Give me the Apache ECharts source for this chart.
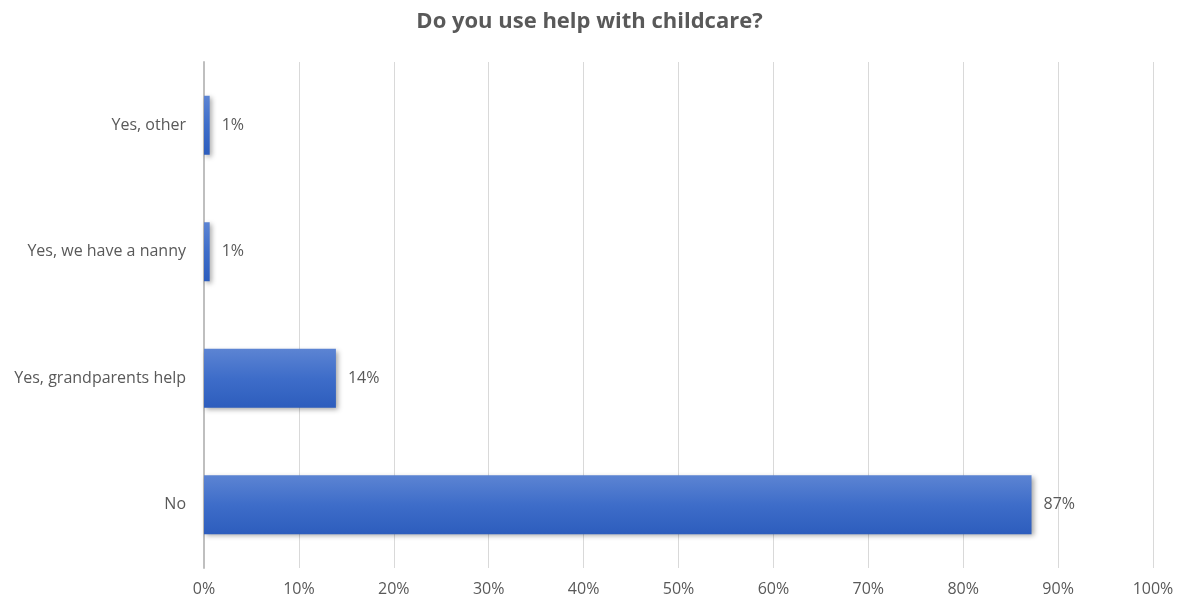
<!DOCTYPE html>
<html>
<head>
<meta charset="utf-8">
<script src="https://cdn.jsdelivr.net/npm/echarts@6/dist/echarts.min.js"></script>
<style>html,body{margin:0;padding:0;background:#fff;}#c{width:1179px;height:604px;}</style>
</head>
<body>
<div id="c"></div>
<script>
const categories = ['No', 'Yes, grandparents help', 'Yes, we have a nanny', 'Yes, other'];
const values = [87.2, 13.9, 0.6, 0.6];
const valueLabels = ['87%', '14%', '1%', '1%'];
const xTicks = [0, 10, 20, 30, 40, 50, 60, 70, 80, 90, 100];

const chart = echarts.init(document.getElementById('c'));
const font = '"Open Sans", "Liberation Sans", sans-serif';
chart.setOption({
  animation: false,
  title: {
    text: 'Do you use help with childcare?',
    left: 'center', top: 6,
    textStyle: { fontFamily: font, fontSize: 22, fontWeight: 'bold', color: '#595959' }
  },
  grid: { left: 204, right: 26, top: 62, bottom: 36, containLabel: false },
  xAxis: {
    type: 'value', min: xTicks[0], max: xTicks[xTicks.length - 1], interval: 10,
    axisLine: { show: false }, axisTick: { show: false },
    splitLine: { lineStyle: { color: '#d9d9d9', width: 1 } },
    axisLabel: { formatter: v => v + '%', color: '#595959', fontFamily: font, fontSize: 16, margin: 13 }
  },
  yAxis: {
    type: 'category', data: categories,
    axisLine: { show: true, lineStyle: { color: '#bfbfbf', width: 2 } },
    axisTick: { show: false },
    axisLabel: { color: '#595959', fontFamily: font, fontSize: 16, margin: 18 }
  },
  series: [{
    type: 'bar', data: values, barWidth: 59,
    itemStyle: {
      color: new echarts.graphic.LinearGradient(0, 0, 0, 1, [
        { offset: 0, color: '#5c84d3' },
        { offset: 0.5, color: '#3e6dc9' },
        { offset: 1, color: '#2d5dbd' }
      ]),
      shadowColor: 'rgba(0,0,0,0.35)', shadowBlur: 5, shadowOffsetX: 2, shadowOffsetY: 2
    },
    label: {
      show: true, position: 'right', distance: 12,
      formatter: p => valueLabels[p.dataIndex],
      color: '#595959', fontFamily: font, fontSize: 16
    }
  }]
});
</script>
</body>
</html>
